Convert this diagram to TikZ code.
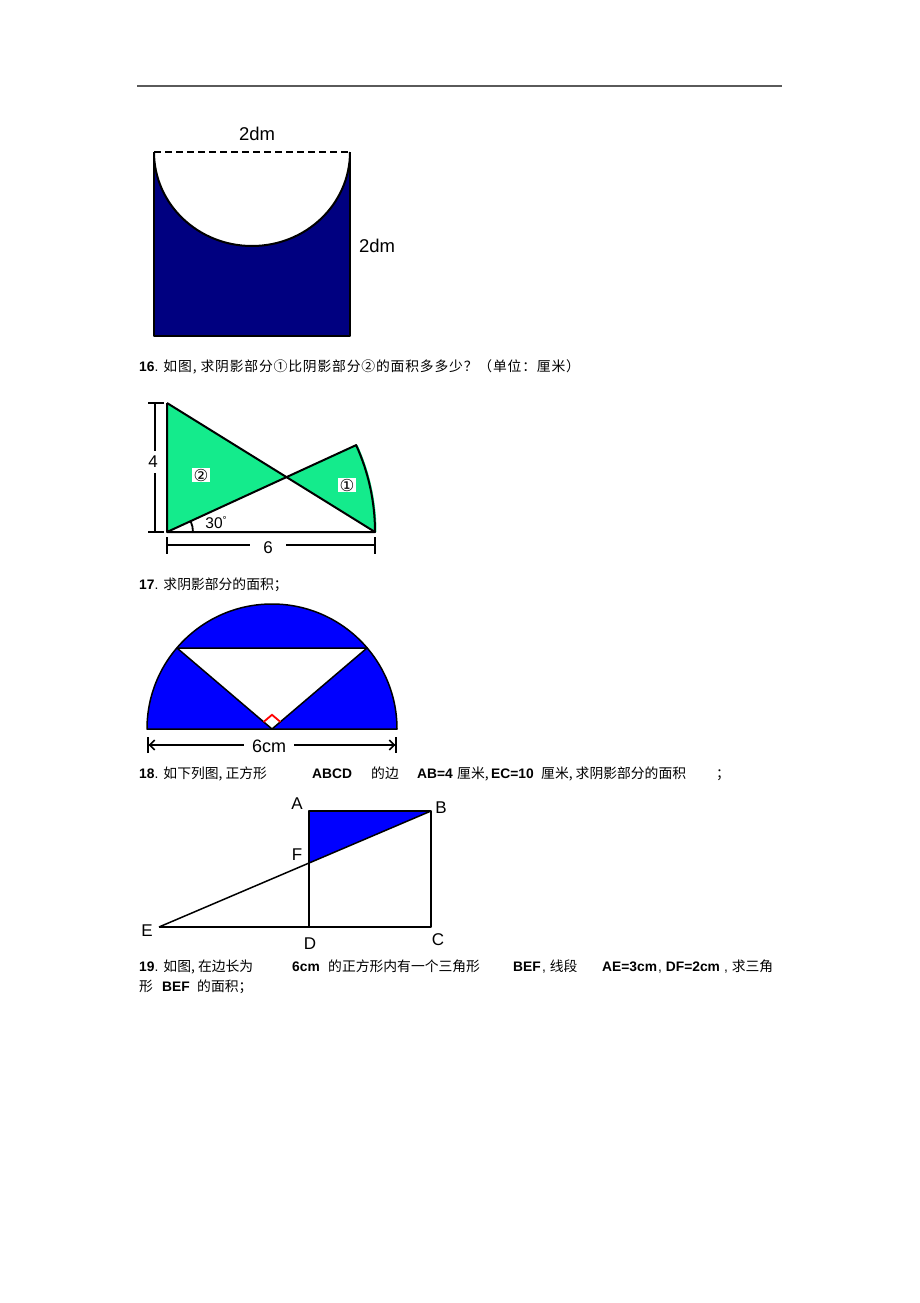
\documentclass[tikz,border=0pt]{standalone}
\usepackage{fontspec}
\setmainfont{Liberation Sans}
\newfontfamily\cjk{Noto Sans CJK SC}
\newfontfamily\cjkw{Noto Sans CJK SC}[LetterSpace=6]
\newfontfamily\dv{DejaVu Sans}
\usetikzlibrary{arrows.meta}
\definecolor{navyfill}{RGB}{0,0,128}
\definecolor{mint}{RGB}{20,235,140}
\definecolor{hdr}{RGB}{90,90,90}
\begin{document}
\begin{tikzpicture}[x=1pt,y=1pt,yscale=-1,line join=round,
  fig/.style={draw=black,line width=2pt},
  thinfig/.style={draw=black,line width=1.5pt},
  txt/.style={anchor=base west,inner sep=0pt,font=\fontsize{13.8}{15}\selectfont},
  lbl/.style={inner sep=0pt,font=\fontsize{17}{19}\selectfont},
  circ/.style={fill=white,inner sep=1.2pt,font=\dv\fontsize{16.5}{16.5}\selectfont}]
\useasboundingbox (0,0) rectangle (920,1303);
\fill[white] (0,0) rectangle (920,1303);
% header rule
\coordinate (h1) at (137,86);
\coordinate (h2) at (782,86);
\draw[hdr,line width=1.2pt] (h1) -- (h2);

% ---------- top figure ----------
\coordinate (t1) at (154,152);
\coordinate (t2) at (350,152);
\coordinate (t3) at (350,336);
\coordinate (t4) at (154,336);
\fill[navyfill] (t1) arc[start angle=180,end angle=0,x radius=98,y radius=94] -- (t3) -- (t4) -- cycle;
\draw[fig] (t1) arc[start angle=180,end angle=0,x radius=98,y radius=94];
\draw[fig] (t2) -- (t3) -- (t4) -- (t1);
\draw[fig,dash pattern=on 7pt off 4pt] (t1) -- (t2);
\node[lbl,font=\fontsize{18.5}{20}\selectfont] (d1) at (257,134) {2dm};
\node[lbl,font=\fontsize{18.5}{20}\selectfont] (d2) at (377,246) {2dm};

% ---------- question 16 ----------
\node[txt] (q16) at (139,371) {\textbf{16}. \cjkw 如图, 求阴影部分①比阴影部分②的面积多多少？（单位：厘米）};

\coordinate (A) at (167,403);
\coordinate (O) at (167,532);
\coordinate (C) at (375,532);
\coordinate (P) at (357.6,445.1);
\coordinate (X) at (intersection of A--C and O--P);
\fill[mint] (A) -- (O) -- (X) -- cycle;
\fill[mint] (X) -- (P) arc[start angle=-24.5,end angle=0,radius=209.5] -- cycle;
\draw[fig] (A) -- (O) -- (C) arc[start angle=0,end angle=-24.5,radius=209.5] -- (O);
\draw[fig] (A) -- (C);
\coordinate (am) at (193,532);
\draw[line width=1.8pt] (am) arc[start angle=0,end angle=-24.5,radius=26];
\node[circ] (c2) at (201,475) {②};
\node[circ] (c1) at (347,485) {①};
\node[lbl,font=\fontsize{15.5}{16}\selectfont] (ang) at (216,523) {30\raisebox{5pt}{\fontsize{10}{10}\selectfont °}};
% dimension 4
\coordinate (v1a) at (148,403); \coordinate (v1b) at (164,403);
\coordinate (v2a) at (148,532); \coordinate (v2b) at (164,532);
\coordinate (v3) at (155,403); \coordinate (v4) at (155,451);
\coordinate (v5) at (155,473); \coordinate (v6) at (155,532);
\draw[fig] (v1a) -- (v1b) (v2a) -- (v2b) (v3) -- (v4) (v5) -- (v6);
\node[lbl] (n4) at (153,462) {4};
% dimension 6
\coordinate (w1a) at (167,537); \coordinate (w1b) at (167,554);
\coordinate (w2a) at (375,537); \coordinate (w2b) at (375,554);
\coordinate (w3) at (167,545); \coordinate (w4) at (250,545);
\coordinate (w5) at (286,545); \coordinate (w6) at (375,545);
\draw[fig] (w1a) -- (w1b) (w2a) -- (w2b) (w3) -- (w4) (w5) -- (w6);
\node[lbl] (n6) at (268,548) {6};

% ---------- question 17 ----------
\node[txt] (q17) at (139,589) {\textbf{17}. \cjk 求阴影部分的面积；};

\coordinate (L) at (147,729);
\coordinate (R) at (397,729);
\coordinate (T1) at (177,648);
\coordinate (T2) at (367,648);
\coordinate (M) at (272,729);
\fill[blue] (L) arc[start angle=180,end angle=360,radius=125] -- cycle;
\fill[white] (T1) -- (T2) -- (M) -- cycle;
\draw[thinfig] (L) arc[start angle=180,end angle=360,radius=125] -- cycle;
\draw[thinfig] (T1) -- (T2) -- (M) -- cycle;
\coordinate (r1) at (263.6,721.9);
\coordinate (r2) at (272,714.8);
\coordinate (r3) at (280.4,721.9);
\draw[red,line width=1.8pt,line join=miter] (r1) -- (r2) -- (r3);
\coordinate (dl) at (147,745);
\coordinate (dr) at (397,745);
\draw[line width=1.6pt,{Bar[width=16pt]Straight Barb[length=5pt,width=10pt]}-{Straight Barb[length=5pt,width=10pt]Bar[width=16pt]}] (dl) -- (dr);
\node[fill=white,inner xsep=8pt,inner ysep=1pt,font=\fontsize{18}{20}\selectfont] (n6cm) at (269,746) {6cm};

% ---------- question 18 ----------
\node[txt] (q18a) at (139,778) {\textbf{18}. \cjk 如下列图, 正方形};
\node[txt] (q18b) at (312,778) {\textbf{ABCD}};
\node[txt] (q18c) at (371,778) {\cjk 的边};
\node[txt] (q18d) at (417,778) {\textbf{AB=4}};
\node[txt] (q18e) at (457,778) {\cjk 厘米,};
\node[txt] (q18f) at (491,778) {\textbf{EC=10}};
\node[txt] (q18g) at (541,778) {\cjk 厘米, 求阴影部分的面积};
\node[txt] (q18h) at (716,778) {\cjk ；};

\coordinate (SA) at (309,811);
\coordinate (SB) at (431,811);
\coordinate (SC) at (431,927);
\coordinate (SD) at (309,927);
\coordinate (SE) at (159,927);
\coordinate (SF) at (intersection of SE--SB and SA--SD);
\fill[blue] (SA) -- (SF) -- (SB) -- cycle;
\draw[thinfig] (SA) -- (SB) -- (SC) -- (SD) -- cycle;
\draw[thinfig] (SE) -- (SD);
\draw[thinfig] (SE) -- (SB);
\node[lbl] (lA) at (297,804) {A};
\node[lbl] (lB) at (441,808) {B};
\node[lbl] (lF) at (297,855) {F};
\node[lbl] (lE) at (147,931) {E};
\node[lbl] (lD) at (310,944) {D};
\node[lbl] (lC) at (438,940) {C};

% ---------- question 19 ----------
\node[txt] (q19a) at (139,971) {\textbf{19}. \cjk 如图, 在边长为};
\node[txt] (q19b) at (292,971) {\textbf{6cm}};
\node[txt] (q19c) at (328,971) {\cjk 的正方形内有一个三角形};
\node[txt] (q19d) at (513,971) {\textbf{BEF}};
\node[txt] (q19e) at (542,971) {, \cjk 线段};
\node[txt] (q19f) at (602,971) {\textbf{AE=3cm}};
\node[txt] (q19g) at (658,971) {, \textbf{DF=2cm}};
\node[txt] (q19h) at (724,971) {, \cjk 求三角};
\node[txt] (q19i) at (139,991) {\cjk 形};
\node[txt] (q19j) at (162,991) {\textbf{BEF}};
\node[txt] (q19k) at (197,991) {\cjk 的面积；};
\end{tikzpicture}
\end{document}
